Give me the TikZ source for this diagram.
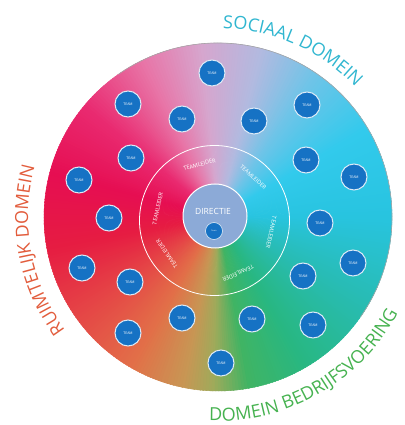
\documentclass[tikz,border=0pt]{standalone}
\usepackage{fontspec}
\setmainfont{Open Sans}
\usetikzlibrary{decorations.text}

\definecolor{teamblue}{RGB}{22,114,196}
\definecolor{dirblue}{RGB}{140,170,215}
\definecolor{socialc}{RGB}{48,182,208}
\definecolor{ruimtec}{RGB}{226,92,60}
\definecolor{bedrijfc}{RGB}{70,178,80}
% colours of the wheel, by angle
\definecolor{g0}{RGB}{40,196,224}
\definecolor{g1}{RGB}{50,202,236}
\definecolor{g2}{RGB}{110,196,232}
\definecolor{g3}{RGB}{178,186,224}
\definecolor{g4}{RGB}{214,166,206}
\definecolor{g5}{RGB}{232,118,168}
\definecolor{g6}{RGB}{233,42,112}
\definecolor{g7}{RGB}{230,14,82}
\definecolor{g8}{RGB}{230,28,66}
\definecolor{g9}{RGB}{229,70,70}
\definecolor{g10}{RGB}{226,112,72}
\definecolor{g11}{RGB}{200,150,84}
\definecolor{g12}{RGB}{160,170,90}
\definecolor{g13}{RGB}{64,180,100}
\definecolor{g14}{RGB}{40,183,130}
\definecolor{g15}{RGB}{40,188,180}

\newcommand\domfont{\fontsize{18}{18}\selectfont}

\tikzset{
  team/.style={circle,draw=white!85!teamblue,line width=1pt,fill=teamblue,
    minimum size=26pt,inner sep=0pt,text=white,font=\fontsize{3.5}{4}\selectfont},
  leider/.style={text=white,inner sep=0pt,font=\fontsize{5.6}{6}\selectfont},
}

\begin{document}
\begin{tikzpicture}[x=1pt,y=1pt]
\useasboundingbox (-218,-208) rectangle (186,217);

% colour wheel
\foreach \a/\b/\ca/\cb in {0/30/g0/g1,30/55/g1/g2,55/75/g2/g3,75/95/g3/g4,
  95/115/g4/g5,115/140/g5/g6,140/165/g6/g7,165/190/g7/g8,190/215/g8/g9,
  215/240/g9/g10,240/258/g10/g11,258/268/g11/g12,268/280/g12/g13,
  280/300/g13/g14,300/330/g14/g15,330/360/g15/g0}{
  \pgfmathtruncatemacro\n{\b-\a-1}
  \foreach \k in {0,...,\n}{
    \pgfmathtruncatemacro\p{100*(\b-\a-\k)/(\b-\a)}
    \pgfmathtruncatemacro\s{\a+\k}
    \colorlet{wedge}{\ca!\p!\cb}
    \filldraw[wedge,line width=0.4pt,line join=round] (0,0) -- (\s:174) arc[start angle=\s,end angle=\s+1.4,radius=174] -- cycle;
  }
}
\draw[gray!70,line width=0.6pt] (125:174) arc[start angle=125,end angle=-35,radius=174];

% ring of the team leaders
\node[circle,draw=white,line width=0.8pt,minimum size=150pt,inner sep=0pt] (ring) at (-3.5,-3.5) {};
\foreach \i/\a in {1/105,2/48,3/-12,4/-66,5/-145,6/168}
  \node[leider,rotate=\a-90] (leider\i) at ([shift={(\a:58)}]ring.center) {TEAMLEIDER};

\node[circle,draw=white,line width=1pt,fill=dirblue,minimum size=64pt,inner sep=0pt] (directie) at (-3,1) {};
\node[text=white,inner sep=0pt,font=\fontsize{8.5}{9}\selectfont] (dirtext) at (-5,6) {DIRECTIE};
\node[team,minimum size=17pt,line width=0.6pt,font=\fontsize{2}{2}\selectfont] (dteam) at (-4,-14) {Team};

% teams
\foreach \i/\x/\y in {1/-6/144,2/-90/113,3/-36/98,4/36/96,5/89/112,
  6/-87/59,7/88/57,8/-139/37,9/136/40,10/-109/-1,11/102/-6,
  12/-136/-51,13/135/-46,14/-88/-65,15/85/-59,16/-36/-101,
  17/34/-102,18/95/-108,19/-90/-116,20/3/-146}
  \node[team] (t\i) at (\x,\y) {TEAM};

% domains
\path[decorate,decoration={text along path,text color=socialc,
  text={|\domfont|SOCIAAL DOMEIN}}]
  (88.5:189) arc[start angle=88.5,end angle=20,radius=189];
\path[decorate,decoration={text along path,text color=ruimtec,
  text={|\domfont|RUIMTELIJK DOMEIN}}]
  (216.5:190) arc[start angle=216.5,end angle=140,radius=190];
\path[decorate,decoration={text along path,text color=bedrijfc,
  text={|\domfont|DOMEIN BEDRIJFSVOERING}}]
  (267.5:204) arc[start angle=267.5,end angle=345,radius=204];

\end{tikzpicture}
\end{document}
